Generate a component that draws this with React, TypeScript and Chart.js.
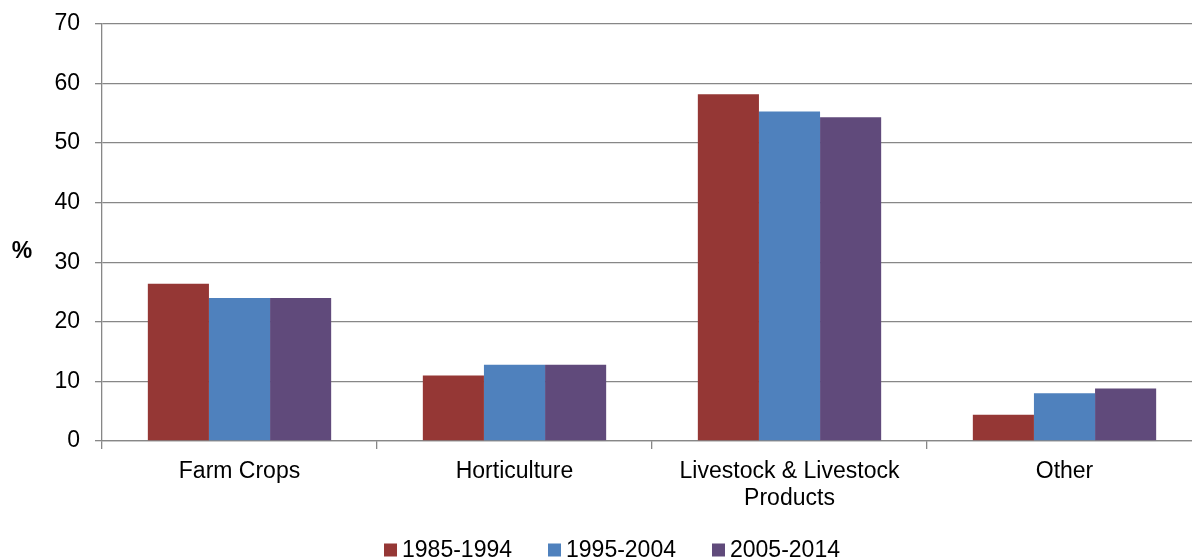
import React, { useEffect, useRef } from "react";
import { Chart, registerables } from "chart.js";

Chart.register(...registerables);

const categories: (string | string[])[] = [
  "Farm Crops",
  "Horticulture",
  ["Livestock & Livestock", "Products"],
  "Other",
];
const seriesNames = ["1985-1994", "1995-2004", "2005-2014"];
const values1985 = [26.4, 11.0, 58.2, 4.4];
const values1995 = [24.0, 12.8, 55.3, 8.0];
const values2005 = [24.0, 12.8, 54.3, 8.8];
const seriesColors = ["#953735", "#4F81BD", "#604A7B"];
const yTicks = [0, 10, 20, 30, 40, 50, 60, 70];
const yAxisLabel = "%";

const FONT = "'Liberation Sans', Arial, sans-serif";
const GRID = "#878787";
const SHIFT = 5; // canvas is shifted up by this many pixels

const overlayPlugin = {
  id: "overlay",
  afterDraw(chart: any) {
    const ctx = chart.ctx as CanvasRenderingContext2D;
    ctx.save();
    ctx.font = `bold 23px ${FONT}`;
    ctx.fillStyle = "#000";
    ctx.textAlign = "center";
    ctx.textBaseline = "middle";
    ctx.fillText(yAxisLabel, 22, 252 + SHIFT);
    ctx.font = `23px ${FONT}`;
    ctx.textAlign = "left";
    const ds = chart.data.datasets;
    const box = 13;
    const gapText = 5;
    const gapItem = 36;
    const widths = ds.map((d: any) => ctx.measureText(d.label).width);
    const total =
      widths.reduce((a: number, w: number) => a + box + gapText + w, 0) +
      gapItem * (ds.length - 1);
    let x = 612 - total / 2;
    const y = 550 + SHIFT;
    ds.forEach((d: any, i: number) => {
      ctx.fillStyle = d.backgroundColor;
      ctx.fillRect(x, y - box / 2, box, box);
      ctx.fillStyle = "#000";
      ctx.fillText(d.label, x + box + gapText, y + 1);
      x += box + gapText + widths[i] + gapItem;
    });
    ctx.restore();
  },
};

export default function App() {
  const ref = useRef<HTMLCanvasElement>(null);
  useEffect(() => {
    if (!ref.current) return;
    const chart = new Chart(ref.current, {
      type: "bar",
      data: {
        labels: categories,
        datasets: [values1985, values1995, values2005].map((v, i) => ({
          label: seriesNames[i],
          data: v,
          backgroundColor: seriesColors[i],
          borderWidth: 0,
          barPercentage: 1,
          categoryPercentage: 2 / 3,
        })),
      },
      options: {
        responsive: false,
        animation: false,
        devicePixelRatio: 1,
        layout: { padding: { left: 0, top: 19, right: 13, bottom: 0 } },
        plugins: {
          legend: { display: false },
          tooltip: { enabled: false },
        },
        scales: {
          x: {
            offset: true,
            grid: {
              offset: true,
              drawOnChartArea: false,
              drawTicks: true,
              tickLength: 8,
              color: GRID,
              lineWidth: 1.3,
            },
            border: { color: GRID, width: 1.3 },
            ticks: {
              color: "#000",
              font: { family: FONT, size: 23, lineHeight: 1.17 },
              padding: 9,
              maxRotation: 0,
              autoSkip: false,
            },
            afterFit: (s: any) => {
              s.height = 116;
            },
          },
          y: {
            min: 0,
            max: 70,
            afterBuildTicks: (s: any) => {
              s.ticks = yTicks.map((v) => ({ value: v }));
            },
            grid: {
              color: GRID,
              lineWidth: 1.3,
              tickLength: 7,
              drawTicks: true,
            },
            border: { color: GRID, width: 1.3 },
            ticks: {
              color: "#000",
              font: { family: FONT, size: 23 },
              padding: 15,
            },
            afterFit: (s: any) => {
              s.width = 102;
            },
          },
        },
      },
      plugins: [overlayPlugin],
    });
    return () => chart.destroy();
  }, []);
  return (
    <div
      style={{
        position: "fixed",
        left: 0,
        top: 0,
        width: 1192,
        height: 557,
        overflow: "hidden",
        background: "#fff",
      }}
    >
      <canvas
        ref={ref}
        width={1215}
        height={557 + SHIFT}
        style={{ display: "block", marginTop: -SHIFT }}
      />
    </div>
  );
}
